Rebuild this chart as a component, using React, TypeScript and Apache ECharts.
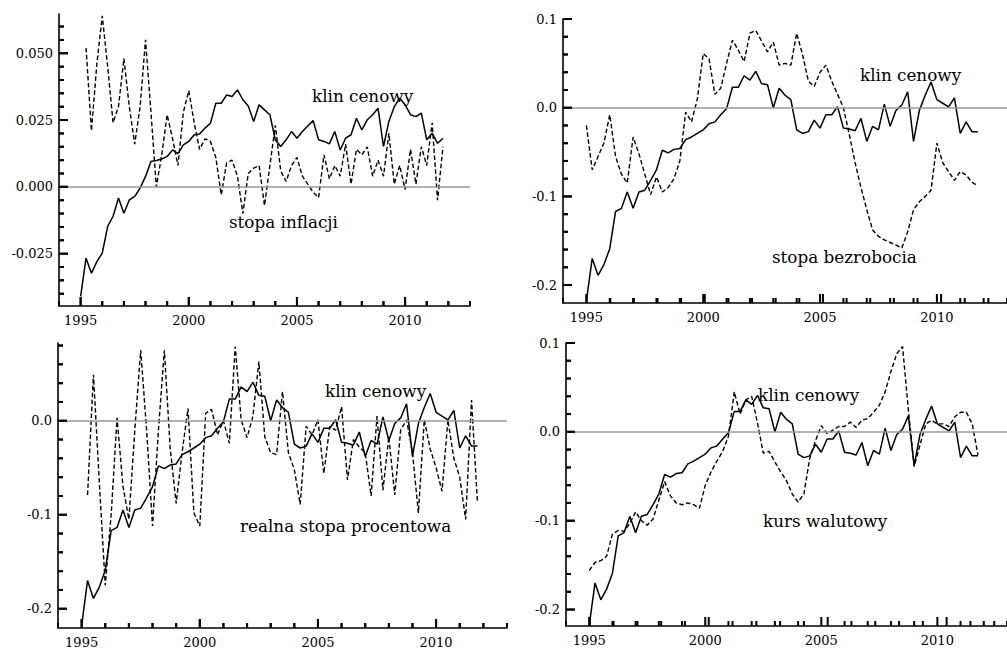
import React, { useEffect, useRef } from "react";
import * as echarts from "echarts";

// Quarterly observations, 1995Q1 .. 2011Q4
const START_YEAR = 1995;
const QUARTER_COUNT = 68;
const quarterTimes: number[] = Array.from({ length: QUARTER_COUNT }, (_, i) => START_YEAR + i / 4);

// klin cenowy (price wedge), log deviations
const klinCenowy: number[] = [
  -0.218, -0.170, -0.189, -0.177, -0.159, -0.117, -0.1135, -0.095,
  -0.1135, -0.095, -0.093, -0.082, -0.070, -0.048, -0.051, -0.047,
  -0.046, -0.036, -0.033, -0.029, -0.025, -0.018, -0.016, -0.008,
  -0.001, 0.023, 0.023, 0.036, 0.031, 0.041, 0.027, 0.026,
  0.000, 0.022, 0.014, 0.009, -0.025, -0.029, -0.027, -0.014,
  -0.023, -0.008, -0.008, 0.001, -0.023, -0.024, -0.026, -0.012,
  -0.038, -0.021, -0.025, 0.004, -0.021, -0.003, 0.003, 0.018,
  -0.038, -0.003, 0.014, 0.029, 0.009, 0.005, 0.001, 0.011,
  -0.029, -0.016, -0.027, -0.027,
];

// klin cenowy rescaled to the inflation range
const klinCenowyInflacja: number[] = [
  -0.041, -0.0267, -0.0323, -0.028, -0.0248, -0.0148, -0.011, -0.0042,
  -0.0099, -0.0049, -0.0036, -0.0005, 0.0039, 0.0095, 0.0099, 0.0104,
  0.0114, 0.0138, 0.0124, 0.0157, 0.017, 0.0195, 0.0198, 0.022,
  0.0238, 0.0313, 0.0313, 0.0344, 0.0338, 0.0363, 0.0326, 0.0303,
  0.0245, 0.0307, 0.0288, 0.027, 0.0176, 0.0151, 0.0176, 0.0207,
  0.0182, 0.0207, 0.0228, 0.0248, 0.0176, 0.017, 0.0161, 0.0207,
  0.0138, 0.0182, 0.0195, 0.0257, 0.0213, 0.0251, 0.027, 0.0294,
  0.0151, 0.0245, 0.03, 0.0332, 0.0307, 0.027, 0.0263, 0.0276,
  0.0176, 0.0201, 0.0163, 0.0182,
];

const stopaInflacji: (number | null)[] = [
  null, 0.052, 0.021, 0.046, 0.064, 0.045, 0.024, 0.030,
  0.048, 0.030, 0.016, 0.030, 0.055, 0.028, 0.000, 0.012,
  0.027, 0.018, 0.008, 0.028, 0.036, 0.024, 0.014, 0.018,
  0.017, 0.011, -0.003, 0.009, 0.010, 0.004, -0.010, 0.005,
  0.007, 0.008, -0.007, 0.008, 0.023, 0.006, 0.002, 0.008,
  0.011, 0.004, 0.001, -0.002, -0.004, 0.012, 0.003, 0.008,
  0.004, 0.016, 0.001, 0.014, 0.012, 0.015, 0.004, 0.010,
  0.004, 0.020, 0.001, 0.008, -0.001, 0.014, 0.001, 0.015,
  0.008, 0.024, -0.005, 0.015,
];

const stopaBezrobocia: number[] = [
  -0.020, -0.070, -0.055, -0.040, -0.008, -0.055, -0.075, -0.085,
  -0.033, -0.052, -0.075, -0.098, -0.078, -0.095, -0.090, -0.080,
  -0.060, -0.005, -0.016, 0.010, 0.061, 0.055, 0.015, 0.022,
  0.050, 0.076, 0.065, 0.052, 0.084, 0.087, 0.075, 0.063,
  0.074, 0.048, 0.050, 0.048, 0.084, 0.060, 0.030, 0.024,
  0.040, 0.048, 0.030, 0.015, 0.000, -0.030, -0.062, -0.090,
  -0.115, -0.138, -0.145, -0.149, -0.152, -0.155, -0.158, -0.140,
  -0.115, -0.106, -0.100, -0.093, -0.040, -0.062, -0.072, -0.082,
  -0.072, -0.076, -0.084, -0.088,
];

const realnaStopaProcentowa: (number | null)[] = [
  null, -0.079, 0.049, -0.066, -0.175, -0.100, 0.003, -0.070,
  -0.105, -0.010, 0.075, -0.010, -0.112, -0.010, 0.075, -0.030,
  -0.088, -0.034, 0.013, -0.098, -0.112, 0.008, 0.012, -0.015,
  0.000, -0.024, 0.079, 0.001, -0.018, 0.005, 0.063, -0.017,
  -0.034, -0.036, 0.031, -0.034, -0.052, -0.089, -0.006, -0.015,
  0.001, -0.056, -0.006, -0.010, 0.015, -0.063, -0.020, -0.028,
  -0.034, -0.080, 0.005, -0.074, -0.017, -0.079, -0.010, 0.001,
  -0.034, -0.098, 0.001, -0.030, -0.050, -0.075, 0.001, -0.040,
  -0.060, -0.105, 0.022, -0.087,
];

const kursWalutowy: number[] = [
  -0.156, -0.147, -0.145, -0.140, -0.115, -0.111, -0.112, -0.103,
  -0.090, -0.100, -0.105, -0.098, -0.077, -0.056, -0.072, -0.080,
  -0.082, -0.080, -0.082, -0.086, -0.060, -0.045, -0.033, -0.022,
  -0.005, 0.045, 0.020, 0.036, 0.040, 0.010, -0.024, -0.022,
  -0.034, -0.045, -0.055, -0.070, -0.079, -0.070, -0.030, -0.010,
  0.007, -0.002, 0.002, 0.006, 0.006, 0.011, 0.005, 0.013,
  0.015, 0.022, 0.030, 0.045, 0.068, 0.088, 0.096, 0.025,
  -0.039, -0.015, 0.009, 0.013, 0.009, 0.009, 0.006, 0.017,
  0.022, 0.022, 0.009, -0.026,
];

// Axis ticks
const yearLabels: number[] = [1995, 2000, 2005, 2010];
const inflationTickLabels: number[] = [-0.025, 0, 0.025, 0.05];
const wedgeTickLabels: number[] = [-0.2, -0.1, 0, 0.1];

const X_MIN = 1994;
const X_MAX = 2013;
const MAJOR_TICK = 9;
const MINOR_TICK = 5;
const TICK_W = 2;

const SERIF = "'DejaVu Serif', 'Liberation Serif', serif";
const INK = "#000";

function steps(from: number, to: number, step: number): number[] {
  const out: number[] = [];
  const n = Math.round((to - from) / step);
  for (let k = 0; k <= n; k++) out.push(+(from + k * step).toFixed(6));
  return out;
}

function pairs(values: (number | null)[]) {
  return values
    .map((v, i) => [quarterTimes[i], v] as [number, number | null])
    .filter((p) => p[1] !== null);
}

type Panel = {
  box: { left: number; top: number; width: number; height: number };
  yMin: number;
  yMax: number;
  yLabels: number[];
  yMinor: number[];
  decimals: number;
  solid: number[];
  dashed: (number | null)[];
  notes: { text: string; x: number; y: number }[];
};

const panels: Panel[] = [
  {
    box: { left: 59, top: 14, width: 411, height: 292 },
    yMin: -0.0446,
    yMax: 0.0647,
    yLabels: inflationTickLabels,
    yMinor: steps(-0.04, 0.06, 0.005),
    decimals: 3,
    solid: klinCenowyInflacja,
    dashed: stopaInflacji,
    notes: [
      { text: "klin cenowy", x: 312, y: 96 },
      { text: "stopa inflacji", x: 229, y: 222 },
    ],
  },
  {
    box: { left: 563, top: 19, width: 449, height: 284 },
    yMin: -0.2202,
    yMax: 0.1,
    yLabels: wedgeTickLabels,
    yMinor: steps(-0.2, 0.1, 0.02),
    decimals: 1,
    solid: klinCenowy,
    dashed: stopaBezrobocia,
    notes: [
      { text: "klin cenowy", x: 860, y: 75 },
      { text: "stopa bezrobocia", x: 772, y: 257 },
    ],
  },
  {
    box: { left: 58, top: 343, width: 449, height: 285 },
    yMin: -0.2205,
    yMax: 0.0827,
    yLabels: [-0.2, -0.1, 0],
    yMinor: steps(-0.2, 0.08, 0.02),
    decimals: 1,
    solid: klinCenowy,
    dashed: realnaStopaProcentowa,
    notes: [
      { text: "klin cenowy", x: 325, y: 391 },
      { text: "realna stopa procentowa", x: 240, y: 526 },
    ],
  },
  {
    box: { left: 566, top: 343, width: 452, height: 283 },
    yMin: -0.2185,
    yMax: 0.1,
    yLabels: wedgeTickLabels,
    yMinor: steps(-0.2, 0.1, 0.02),
    decimals: 1,
    solid: klinCenowy,
    dashed: kursWalutowy,
    notes: [
      { text: "klin cenowy", x: 758, y: 395 },
      { text: "kurs walutowy", x: 763, y: 521 },
    ],
  },
];

const minorYears = steps(X_MIN, X_MAX, 1);

function isLabelled(list: number[], v: number) {
  return list.some((l) => Math.abs(l - v) < 1e-9);
}

function yTickValues(p: Panel) {
  const vals = [...p.yMinor];
  p.yLabels.forEach((v) => {
    if (!isLabelled(vals, v)) vals.push(v);
  });
  return vals;
}

// Inward tick marks as short broken segments in the panel's data space
function tickPath(p: Panel): (number | string)[][] {
  const xPerPx = (X_MAX - X_MIN) / p.box.width;
  const yPerPx = (p.yMax - p.yMin) / p.box.height;
  const pts: (number | string)[][] = [];
  minorYears.forEach((v) => {
    const len = isLabelled(yearLabels, v) ? MAJOR_TICK : MINOR_TICK;
    pts.push([v, p.yMin], [v, p.yMin + len * yPerPx], [v, "-"]);
  });
  yTickValues(p).forEach((v) => {
    const len = isLabelled(p.yLabels, v) ? MAJOR_TICK : MINOR_TICK;
    pts.push([X_MIN, v], [X_MIN + len * xPerPx, v], [X_MIN, "-"]);
  });
  return pts;
}

// The same tick marks as thin filled bars on the graphic layer
function tickRects(p: Panel, g: number) {
  const { left, top, width, height } = p.box;
  const px = (v: number) => left + ((v - X_MIN) / (X_MAX - X_MIN)) * width;
  const py = (v: number) => top + ((p.yMax - v) / (p.yMax - p.yMin)) * height;
  const bottom = top + height;
  const out: any[] = [];
  minorYears.forEach((v, k) => {
    const len = isLabelled(yearLabels, v) ? MAJOR_TICK : MINOR_TICK;
    out.push({
      id: `xt-${g}-${k}`,
      type: "rect",
      z: 20,
      silent: true,
      shape: { x: px(v) - TICK_W / 2, y: bottom - len, width: TICK_W, height: len },
      style: { fill: INK },
    });
  });
  yTickValues(p).forEach((v, k) => {
    const len = isLabelled(p.yLabels, v) ? MAJOR_TICK : MINOR_TICK;
    out.push({
      id: `yt-${g}-${k}`,
      type: "rect",
      z: 20,
      silent: true,
      shape: { x: left, y: py(v) - TICK_W / 2, width: len, height: TICK_W },
      style: { fill: INK },
    });
  });
  return out;
}

function buildOption() {
  const axisLine = { show: true, onZero: false, lineStyle: { color: INK, width: 1.6 } };
  const labelStyle = { color: INK, fontFamily: SERIF, fontSize: 13 };

  const grid = panels.map((p) => ({ ...p.box, containLabel: false }));

  const xAxis = panels.map((_, g) => ({
    type: "value",
    gridIndex: g,
    position: "bottom",
    min: X_MIN,
    max: X_MAX,
    axisLine,
    splitLine: { show: false },
    axisTick: { show: false },
    axisLabel: {
      show: true,
      customValues: yearLabels,
      margin: 8,
      ...labelStyle,
      formatter: (v: number) => String(Math.round(v)),
    },
  }));

  const yAxis = panels.map((p, g) => ({
    type: "value",
    gridIndex: g,
    position: "left",
    min: p.yMin,
    max: p.yMax,
    axisLine,
    splitLine: { show: false },
    axisTick: { show: false },
    axisLabel: {
      show: true,
      customValues: p.yLabels,
      margin: 6,
      ...labelStyle,
      formatter: (v: number) => (Math.abs(v) < 1e-9 ? 0 : v).toFixed(p.decimals),
    },
  }));

  const series = panels.flatMap((p, g) => [
    {
      type: "line",
      xAxisIndex: g,
      yAxisIndex: g,
      data: pairs(p.dashed),
      showSymbol: false,
      symbol: "none",
      silent: true,
      z: 3,
      lineStyle: { color: INK, width: 1.4, type: [4.5, 2.5] },
      markLine: {
        silent: true,
        symbol: ["none", "none"],
        label: { show: false },
        lineStyle: { color: "#999", width: 1.6, type: "solid" },
        data: [{ yAxis: 0 }],
      },
    },
    {
      type: "line",
      xAxisIndex: g,
      yAxisIndex: g,
      data: pairs(p.solid),
      showSymbol: false,
      symbol: "none",
      silent: true,
      z: 4,
      lineStyle: { color: INK, width: 1.5, type: "solid" },
    },
    {
      type: "line",
      name: "ticks",
      xAxisIndex: g,
      yAxisIndex: g,
      data: tickPath(p),
      connectNulls: false,
      showSymbol: false,
      symbol: "none",
      silent: true,
      clip: false,
      z: 6,
      lineStyle: { color: INK, width: TICK_W, type: "solid", cap: "butt" },
    },
  ]);

  const notes = panels.flatMap((p, g) =>
    p.notes.map((n, k) => ({
      id: `note-${g}-${k}`,
      type: "text",
      x: n.x,
      y: n.y,
      z: 10,
      silent: true,
      style: {
        text: n.text,
        fill: INK,
        font: `16.8px ${SERIF}`,
        align: "left",
        verticalAlign: "middle",
      },
    }))
  );

  const ticks = panels.flatMap((p, g) => tickRects(p, g));

  return {
    animation: false,
    backgroundColor: "#fff",
    grid,
    xAxis,
    yAxis,
    series,
    graphic: [...notes, ...ticks],
  };
}

export default function App() {
  const ref = useRef<HTMLDivElement>(null);

  useEffect(() => {
    if (!ref.current) return;
    const chart = echarts.init(ref.current, undefined, { renderer: "svg" });
    chart.setOption(buildOption() as any);
    return () => chart.dispose();
  }, []);

  return (
    <div
      ref={ref}
      style={{ position: "fixed", left: 0, top: 0, width: 1007, height: 651, background: "#fff" }}
    />
  );
}
